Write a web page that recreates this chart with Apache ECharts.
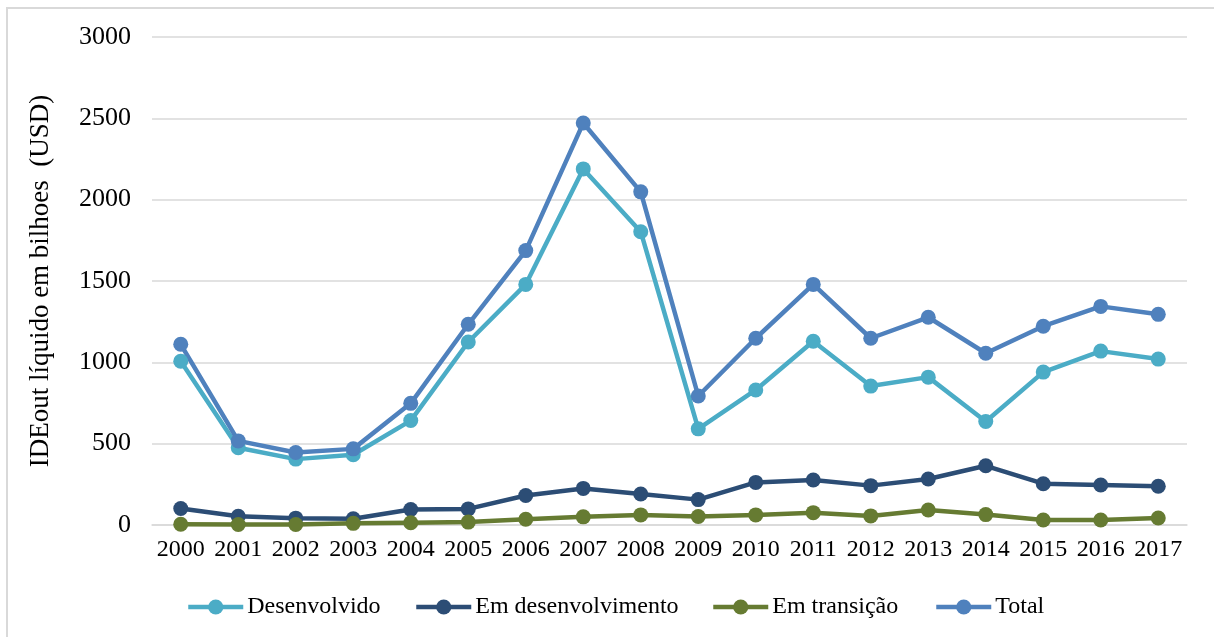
<!DOCTYPE html>
<html>
<head>
<meta charset="utf-8">
<script src="https://cdn.jsdelivr.net/npm/echarts@6/dist/echarts.min.js"></script>
<style>
html,body{margin:0;padding:0;background:#fff;}
#frame{position:absolute;left:6px;top:7px;width:1220px;height:640px;border-left:2px solid #d9d9d9;border-top:2px solid #d9d9d9;box-sizing:border-box;}
#chart{position:absolute;left:0;top:0;width:1214px;height:637px;}
</style>
</head>
<body>
<div id="frame"></div>
<div id="chart"></div>
<script>
var years = ['2000','2001','2002','2003','2004','2005','2006','2007','2008','2009','2010','2011','2012','2013','2014','2015','2016','2017'];
var desenvolvido = [1007, 475, 405, 432, 642, 1125, 1479, 2189, 1803, 591, 830, 1130, 854, 909, 636, 940, 1069, 1020];
var emDesenvolvimento = [101, 54, 42, 38, 95, 99, 181, 225, 191, 156, 262, 277, 242, 283, 364, 254, 246, 238];
var emTransicao = [5, 3, 3, 10, 14, 18, 35, 50, 62, 52, 62, 76, 56, 92, 64, 31, 31, 43];
var total = [1111, 517, 446, 468, 748, 1234, 1687, 2471, 2048, 793, 1148, 1479, 1148, 1277, 1056, 1222, 1344, 1295];
var seriesNames = ['Desenvolvido', 'Em desenvolvimento', 'Em transição', 'Total'];
var yTicks = {min: 0, max: 3000, interval: 500};

var font = '"Liberation Serif", "Times New Roman", serif';
var legendLefts = [186, 414, 711, 934];
function line(name, data, color) {
  return {
    name: name, type: 'line', data: data,
    symbol: 'circle', symbolSize: 15,
    lineStyle: {color: color, width: 4.5},
    itemStyle: {color: color},
    emphasis: {disabled: true},
    z: 2
  };
}
var legends = seriesNames.map(function (n, i) {
  return {
    bottom: 18, left: legendLefts[i], itemWidth: 55, itemHeight: 19, padding: 0,
    lineStyle: {width: 4.5},
    textStyle: {fontFamily: font, fontSize: 24, color: '#000', padding: [0,0,0,-1]},
    data: [n]
  };
});
var chart = echarts.init(document.getElementById('chart'));
chart.setOption({
  animation: false,
  textStyle: {fontFamily: font, color: '#000'},
  grid: {left: 152, right: 27, top: 37, bottom: 112, containLabel: false},
  legend: legends,
  xAxis: {
    type: 'category', data: years, boundaryGap: true,
    axisLine: {show: true, lineStyle: {color: '#d9d9d9', width: 1.5}},
    axisTick: {show: false},
    axisLabel: {fontFamily: font, fontSize: 24, color: '#000', margin: 13, interval: 0}
  },
  yAxis: {
    type: 'value', min: yTicks.min, max: yTicks.max, interval: yTicks.interval,
    name: 'IDEout líquido em bilhoes  (USD)', nameLocation: 'middle', nameGap: 98, nameRotate: 90,
    nameTextStyle: {fontFamily: font, fontSize: 27, color: '#000'},
    axisLine: {show: false}, axisTick: {show: false},
    axisLabel: {fontFamily: font, fontSize: 26, color: '#000', margin: 21, formatter: function (v) { return String(v); }},
    splitLine: {lineStyle: {color: '#d9d9d9', width: 1.5}}
  },
  series: [
    line(seriesNames[0], desenvolvido, '#4bacc6'),
    line(seriesNames[1], emDesenvolvimento, '#2c4d75'),
    line(seriesNames[2], emTransicao, '#667b32'),
    line(seriesNames[3], total, '#4f81bd')
  ]
});
</script>
</body>
</html>
